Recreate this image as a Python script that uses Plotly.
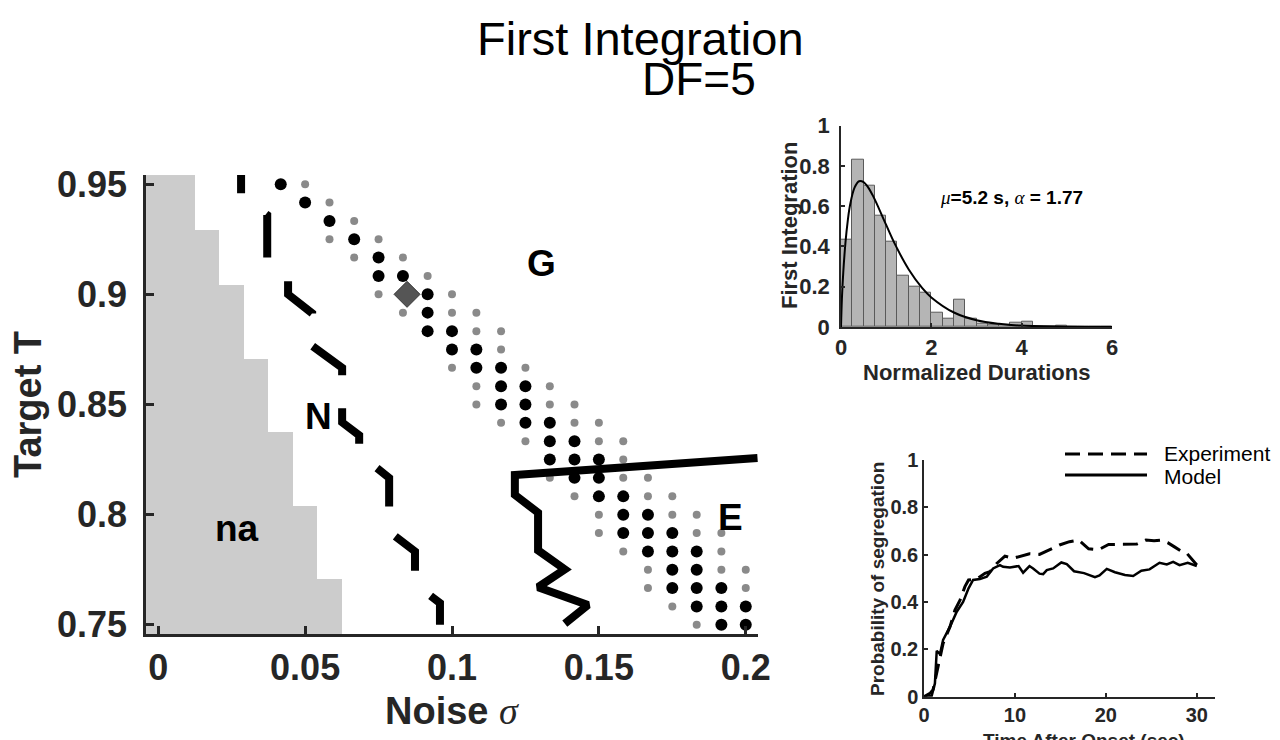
import plotly.graph_objects as go

W, H = 1280, 740
def px(x):
    return x / W
def py(y):
    return 1 - y / H

FONT = "Liberation Sans, Arial, sans-serif"
AX = "#262626"

# ---------------- main panel data ----------------
sigma_grid = [0.0, 0.0083, 0.0167, 0.025, 0.0333, 0.0417, 0.05, 0.0583, 0.0667, 0.075,
              0.0833, 0.0917, 0.1, 0.1083, 0.1167, 0.125, 0.1333, 0.1417, 0.15, 0.1583,
              0.1667, 0.175, 0.1833, 0.1917, 0.2]
T_grid = [0.95, 0.9417, 0.9333, 0.925, 0.9167, 0.9083, 0.9, 0.8917, 0.8833, 0.875,
          0.8667, 0.8583, 0.85, 0.8417, 0.8333, 0.825, 0.8167, 0.8083, 0.8, 0.7917,
          0.7833, 0.775, 0.7667, 0.7583, 0.75]
# last grid column (per row) that belongs to the "na" region
na_last_col = [1, 1, 1, 2, 2, 2, 3, 3, 3, 3, 4, 4, 4, 4, 5, 5, 5, 5, 6, 6, 6, 6, 7, 7, 7]
# grid columns of black (large) and gray (small) dots, per row of T_grid
black_cols = [[5], [6], [7], [8], [9], [9, 10], [11], [11], [11, 12], [12, 13],
              [13, 14], [14, 15], [14, 15], [15, 16], [16, 17], [16, 17, 18], [17, 18],
              [18, 19], [19, 20], [19, 20, 21], [20, 21, 22], [21, 22], [21, 22, 23],
              [22, 23, 24], [23, 24]]
gray_cols = [[6], [7], [8], [7, 9], [8, 10], [11], [9, 12], [10, 12, 13], [13, 14], [14],
             [12, 15], [13, 16], [13, 16, 17], [14, 17, 18], [15, 18, 19], [19], [16, 19, 20],
             [17, 20, 21], [18, 21, 22], [18, 22, 23], [19, 23], [20, 23, 24], [20, 24],
             [21], [22]]
# N / G boundary (dashed)
n_line_sigma = [0.0282, 0.0282, 0.0371, 0.0371, 0.0442, 0.0442, 0.0524, 0.0524, 0.0626,
                0.0626, 0.0684, 0.0684, 0.0786, 0.0786, 0.0874, 0.0874, 0.0959, 0.0959]
n_line_T = [0.9658, 0.9451, 0.9360, 0.9167, 0.9081, 0.9000, 0.8914, 0.8766, 0.8667,
            0.8419, 0.8360, 0.8275, 0.8167, 0.7923, 0.7833, 0.7685, 0.7599, 0.7500]
# E boundary (solid)
e_line_sigma = [0.2040, 0.1214, 0.1214, 0.1293, 0.1293, 0.1384, 0.1293, 0.1463, 0.1384]
e_line_T = [0.8257, 0.8180, 0.8090, 0.8009, 0.7838, 0.7752, 0.7671, 0.7590, 0.7505]
diamond_sigma = [0.0847]
diamond_T = [0.9]

x_ticks = [0, 0.05, 0.1, 0.15, 0.2]
x_ticktext = ["0", "0.05", "0.1", "0.15", "0.2"]
y_ticks = [0.75, 0.8, 0.85, 0.9, 0.95]
y_ticktext = ["0.75", "0.8", "0.85", "0.9", "0.95"]

# ---------------- histogram inset ----------------
hist_left = [0.0, 0.25, 0.5, 0.75, 1.0, 1.25, 1.5, 1.75, 2.0, 2.25, 2.5, 2.75,
             3.0, 3.25, 3.5, 3.75, 4.0, 4.25, 4.5, 4.75, 5.0, 5.25, 5.5, 5.75]
hist_height = [0.436, 0.830, 0.704, 0.555, 0.423, 0.257, 0.198, 0.168, 0.073, 0.042,
               0.134, 0.041, 0.017, 0.013, 0.010, 0.020, 0.028, 0.003, 0.003, 0.005,
               0.003, 0.0, 0.003, 0.002]
fit_x = [0, 0.02, 0.05, 0.1, 0.15, 0.2, 0.3, 0.4, 0.5, 0.6, 0.7, 0.8, 1.0, 1.2, 1.5,
         1.8, 2.0, 2.5, 3.0, 3.5, 4.0, 5.0, 6.0]
fit_y = [0, 0.141, 0.271, 0.423, 0.529, 0.605, 0.692, 0.724, 0.720, 0.694, 0.655, 0.608,
         0.507, 0.409, 0.286, 0.193, 0.147, 0.072, 0.034, 0.016, 0.007, 0.0015, 0.0003]

# ---------------- probability panel ----------------
exp_t = [0, 0.66, 1.0, 1.6, 2.1, 2.86, 3.4, 3.96, 4.5, 4.9, 5.8, 6.7, 7.25, 8.0, 8.9,
         9.8, 10.5, 11.6, 12.7, 13.8, 14.9, 16.0, 17.0, 18.1, 19.2, 20.3, 21.3, 22.3,
         23.4, 24.4, 25.3, 26.1, 26.8, 27.5, 28.2, 28.9, 29.4, 30.0]
exp_p = [0, 0.014, 0.03, 0.14, 0.225, 0.296, 0.366, 0.408, 0.465, 0.493, 0.497, 0.521,
         0.528, 0.563, 0.594, 0.585, 0.592, 0.604, 0.601, 0.621, 0.641, 0.655, 0.662,
         0.625, 0.621, 0.643, 0.643, 0.643, 0.645, 0.662, 0.659, 0.662, 0.651, 0.634,
         0.617, 0.606, 0.585, 0.556]
mod_t = [0, 0.84, 1.2, 1.4, 1.76, 2.1, 2.86, 3.6, 4.3, 4.9, 5.4, 6.15, 6.9, 7.6, 8.35,
         8.7, 9.45, 10.4, 10.9, 11.6, 12.0, 12.7, 13.1, 13.5, 14.2, 15.1, 15.7, 16.5,
         17.6, 18.8, 19.3, 20.1, 21.0, 22.1, 23.0, 23.9, 24.8, 25.9, 26.7, 27.4, 28.1,
         29.0, 30.0]
mod_p = [0, 0.003, 0.056, 0.194, 0.18, 0.24, 0.296, 0.359, 0.40, 0.458, 0.493, 0.497,
         0.507, 0.542, 0.556, 0.549, 0.546, 0.552, 0.524, 0.552, 0.542, 0.52, 0.518,
         0.535, 0.542, 0.567, 0.56, 0.53, 0.522, 0.505, 0.512, 0.54, 0.526, 0.514, 0.51,
         0.532, 0.538, 0.566, 0.559, 0.570, 0.556, 0.566, 0.552]

fig = go.Figure()

# na region
z = []
for j in range(len(T_grid)):
    z.append([1 if i <= na_last_col[j] else None for i in range(len(sigma_grid))])
fig.add_trace(go.Heatmap(x=sigma_grid, y=T_grid, z=z, showscale=False, hoverinfo="skip",
                         colorscale=[[0, "#cccccc"], [1, "#cccccc"]], zmin=0, zmax=1,
                         xaxis="x", yaxis="y"))

gx, gy, bx, by = [], [], [], []
for j, T in enumerate(T_grid):
    for i in gray_cols[j]:
        gx.append(sigma_grid[i]); gy.append(T)
    for i in black_cols[j]:
        bx.append(sigma_grid[i]); by.append(T)
fig.add_trace(go.Scatter(x=gx, y=gy, mode="markers", xaxis="x", yaxis="y",
                         marker=dict(size=8, color="#8a8a8a", line=dict(width=0))))
fig.add_trace(go.Scatter(x=bx, y=by, mode="markers", xaxis="x", yaxis="y",
                         marker=dict(size=12, color="black", line=dict(width=0))))
fig.add_trace(go.Scatter(x=n_line_sigma, y=n_line_T, mode="lines", xaxis="x", yaxis="y",
                         line=dict(color="black", width=8, dash="44px,33px")))
fig.add_trace(go.Scatter(x=e_line_sigma, y=e_line_T, mode="lines", xaxis="x", yaxis="y",
                         line=dict(color="black", width=8)))
fig.add_trace(go.Scatter(x=diamond_sigma, y=diamond_T, mode="markers", xaxis="x", yaxis="y",
                         marker=dict(symbol="diamond", size=20, color="#555555",
                                     line=dict(color="#333333", width=1))))

# histogram
fig.add_trace(go.Bar(x=hist_left, y=hist_height, width=[0.25] * len(hist_left), offset=0,
                     xaxis="x2", yaxis="y2",
                     marker=dict(color="#b5b5b5", line=dict(color="#5a5a5a", width=1))))
fig.add_trace(go.Scatter(x=fit_x, y=fit_y, mode="lines", xaxis="x2", yaxis="y2",
                         line=dict(color="black", width=2, shape="spline")))

# probability
fig.add_trace(go.Scatter(x=exp_t, y=exp_p, mode="lines", xaxis="x3", yaxis="y3",
                         line=dict(color="black", width=3, dash="15px,8px")))
fig.add_trace(go.Scatter(x=mod_t, y=mod_p, mode="lines", xaxis="x3", yaxis="y3",
                         line=dict(color="black", width=2.5)))

def axis(domain, rng, tickvals, ticktext, size, lw, ticklen, standoff):
    return dict(domain=domain, range=rng, tickvals=tickvals, ticktext=ticktext,
                showline=True, linecolor=AX, linewidth=lw, ticks="inside",
                ticklen=ticklen, tickwidth=lw, tickcolor=AX, showgrid=False,
                zeroline=False, fixedrange=True, ticklabelstandoff=standoff,
                automargin=False,
                tickfont=dict(family=FONT, size=size, color=AX, weight="bold"))

fig.update_layout(
    template="none",
    width=W, height=H, margin=dict(l=0, r=0, t=0, b=0, pad=0, autoexpand=False),
    paper_bgcolor="white", plot_bgcolor="rgba(0,0,0,0)", showlegend=False,
    bargap=0,
    xaxis=axis([px(146), px(758)], [-1 / 240, 0.2 + 1 / 240], x_ticks, x_ticktext, 36, 2.5, 8, 0),
    yaxis=axis([py(634), py(175)], [0.75 - 1 / 240, 0.95 + 1 / 240], y_ticks, y_ticktext, 36, 2.5, 8, 9),
    xaxis2=axis([px(841), px(1112)], [0, 6], [0, 2, 4, 6], ["0", "2", "4", "6"], 22, 1.5, 4, 0),
    yaxis2=axis([py(327), py(125.7)], [0, 1], [0, 0.2, 0.4, 0.6, 0.8, 1],
                ["0", "0.2", "0.4", "0.6", "0.8", "1"], 22, 1.5, 4, 5),
    xaxis3=axis([px(924), px(1215)], [0, 32], [0, 10, 20, 30], ["0", "10", "20", "30"], 20, 1.5, 4, 0),
    yaxis3=axis([py(696.7), py(460)], [0, 1], [0, 0.2, 0.4, 0.6, 0.8, 1],
                ["0", "0.2", "0.4", "0.6", "0.8", "1"], 20, 1.5, 4, 0),
)
fig.layout.xaxis2.anchor = "y2"
fig.layout.yaxis2.anchor = "x2"
fig.layout.xaxis3.anchor = "y3"
fig.layout.yaxis3.anchor = "x3"

def ann(text, x, y, size, color="black", bold=True, angle=0, xanchor="center",
        yanchor="middle"):
    fig.add_annotation(text=text, x=px(x), y=py(y), xref="paper", yref="paper",
                       showarrow=False, textangle=angle, xanchor=xanchor, yanchor=yanchor,
                       font=dict(family=FONT, size=size, color=color,
                                 weight="bold" if bold else "normal"))

GREEK = "font-family:'Liberation Serif',serif;font-style:italic;font-weight:normal"

ann("First Integration", 640, 38, 47, bold=False)
ann("DF=5", 699, 79, 46, bold=False)
ann("Target T", 28, 405, 38, color=AX, angle=-90)
ann("Noise <span style=\"%s\">σ</span>" % GREEK, 452, 711, 38, color=AX)
ann("G", 541, 263, 37)
ann("N", 318, 416, 37)
ann("na", 237, 528, 37)
ann("E", 730, 517, 37)
ann("<span style=\"%s\">μ</span>=5.2 s, <span style=\"%s\">α</span> = 1.77" % (GREEK, GREEK),
    1011, 198, 19)
ann("First Integration", 789, 226, 22, color=AX, angle=-90)
ann("Normalized Durations", 976, 373, 22, color=AX)
ann("Probability of segregation", 877, 579, 19, color=AX, angle=-90)
ann("Time After Onset (sec)", 1084, 728, 19, color=AX, yanchor="top")
ann("Experiment", 1162, 454, 21, bold=False, xanchor="left")
ann("Model", 1162, 476, 21, bold=False, xanchor="left")

fig.add_shape(type="line", xref="paper", yref="paper", x0=px(1065), x1=px(1147),
              y0=py(454), y1=py(454), line=dict(color="black", width=3, dash="15px,8px"))
fig.add_shape(type="line", xref="paper", yref="paper", x0=px(1065), x1=px(1147),
              y0=py(475), y1=py(475), line=dict(color="black", width=3))

fig.write_html("out.html")
